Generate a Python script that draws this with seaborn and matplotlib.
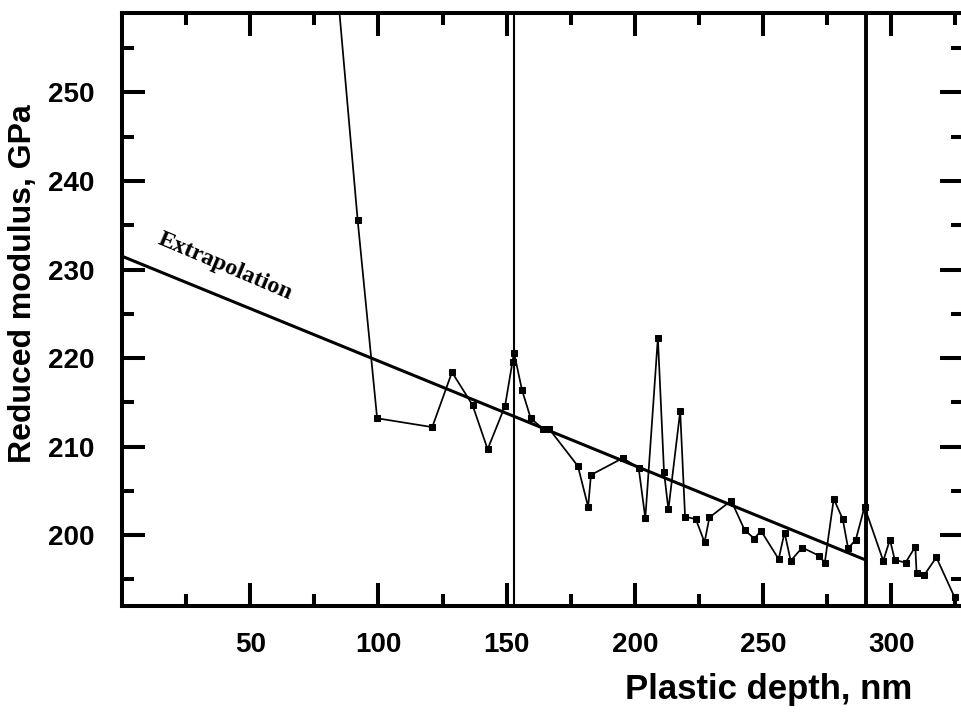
import matplotlib
matplotlib.use("Agg")
import matplotlib.pyplot as plt
import seaborn as sns
import pandas as pd
from matplotlib.ticker import FixedLocator

# ---- data ----
depth_nm = [83.0, 91.9, 99.5, 121.0, 128.7, 136.7, 142.6, 149.4, 152.3, 152.9,
            156.0, 159.4, 164.2, 166.6, 177.8, 181.8, 182.9, 195.3, 201.5, 204.1,
            209.0, 211.4, 213.1, 217.7, 219.6, 223.8, 227.2, 229.1, 237.6, 242.8,
            246.6, 249.2, 256.1, 258.4, 260.8, 265.3, 271.7, 274.1, 277.6, 281.1,
            283.2, 286.2, 289.6, 296.9, 299.5, 301.4, 305.6, 309.4, 309.9, 312.9,
            317.6, 324.7]
modulus_gpa = [265.0, 235.6, 213.2, 212.2, 218.4, 214.7, 209.7, 214.6, 219.6, 220.6,
               216.4, 213.2, 212.0, 212.0, 207.8, 203.2, 206.8, 208.7, 207.6, 201.9,
               222.3, 207.1, 202.9, 214.0, 202.1, 201.8, 199.2, 202.0, 203.9, 200.6,
               199.6, 200.5, 197.3, 200.3, 197.1, 198.6, 197.7, 196.9, 204.1, 201.8,
               198.5, 199.5, 203.2, 197.1, 199.5, 197.2, 196.9, 198.7, 195.7, 195.5,
               197.5, 193.0]

extrap_x = [0.0, 290.0]
extrap_y = [231.5, 197.2]
extrap_label = "Extrapolation"

vlines_x = [153.0, 290.0]

x_ticks = [50, 100, 150, 200, 250, 300]
y_ticks = [200, 210, 220, 230, 240, 250]
x_title = "Plastic depth, nm"
y_title = "Reduced modulus, GPa"

df = pd.DataFrame({"depth": depth_nm, "modulus": modulus_gpa})
df_ext = pd.DataFrame({"depth": extrap_x, "modulus": extrap_y})

sns.set_theme(style="ticks")
plt.rcParams["font.family"] = ["Liberation Sans", "DejaVu Sans"]
plt.rcParams["text.color"] = "black"
plt.rcParams["axes.labelcolor"] = "black"
plt.rcParams["xtick.color"] = "black"
plt.rcParams["ytick.color"] = "black"
plt.rcParams["axes.edgecolor"] = "black"

fig = plt.figure(figsize=(9.62, 7.13), dpi=100)
ax = fig.add_axes([122 / 962, 1 - 606 / 713, (963 - 122) / 962, (606 - 12.7) / 713])

sns.lineplot(data=df, x="depth", y="modulus", ax=ax, sort=False, estimator=None,
             color="black", linewidth=1.25, marker="s", markersize=5,
             markeredgecolor="black", markerfacecolor="black", zorder=3)
sns.lineplot(data=df_ext, x="depth", y="modulus", ax=ax, sort=False, estimator=None,
             color="black", linewidth=2.2, zorder=2)

ax.axvline(vlines_x[0], color="black", linewidth=1.5, zorder=2)
ax.axvline(vlines_x[1], color="black", linewidth=2.8, zorder=2)

ax.text(13.5, 232.9, extrap_label, rotation=-23, rotation_mode="anchor",
        ha="left", va="baseline", fontsize=17.5, fontweight="bold", color="black",
        family=["Liberation Serif", "DejaVu Serif"])

ax.set_xlim(0, 328)
ax.set_ylim(192.0, 259.0)
ax.xaxis.set_major_locator(FixedLocator(x_ticks))
ax.yaxis.set_major_locator(FixedLocator(y_ticks))
ax.xaxis.set_minor_locator(FixedLocator([25, 75, 125, 175, 225, 275, 325]))
ax.yaxis.set_minor_locator(FixedLocator([195, 205, 215, 225, 235, 245, 255]))

for s in ax.spines.values():
    s.set_linewidth(2.9)
    s.set_color("black")

ax.tick_params(which="both", direction="in", top=True, right=True, color="black",
               labelcolor="black")
ax.tick_params(which="major", length=16.5, width=2.9)
ax.tick_params(which="minor", length=8.6, width=2.9)
ax.tick_params(axis="x", which="major", pad=19, labelsize=20)
ax.tick_params(axis="y", which="major", pad=20, labelsize=20)
for lab in ax.get_xticklabels() + ax.get_yticklabels():
    lab.set_fontweight("bold")

ax.set_xlabel(x_title, fontsize=25, fontweight="bold", color="black")
ax.set_ylabel(y_title, fontsize=23, fontweight="bold", color="black")
ax.xaxis.set_label_coords(0.769, -0.113)
ax.yaxis.set_label_coords(-0.100, 0.544)

fig.savefig("out.png", dpi=100, facecolor="white")
